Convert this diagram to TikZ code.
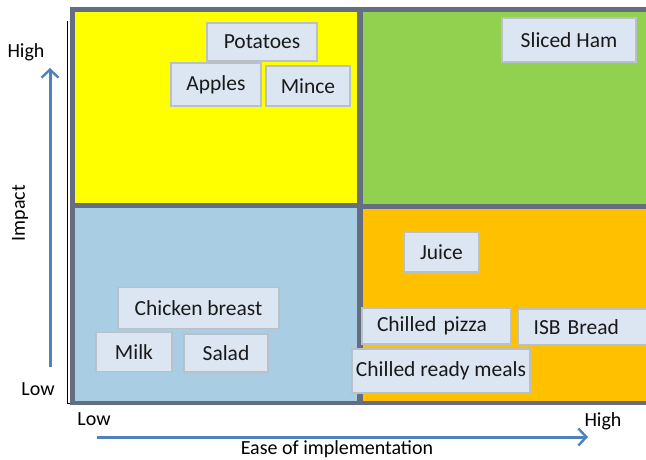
\documentclass[tikz,border=0pt]{standalone}
\usepackage{fontspec}
\setmainfont{Carlito}
\usetikzlibrary{arrows.meta}
\definecolor{framegray}{HTML}{646E80}
\definecolor{qyellow}{HTML}{FFFF00}
\definecolor{qgreen}{HTML}{92D050}
\definecolor{qblue}{HTML}{A9CDE3}
\definecolor{qorange}{HTML}{FFC000}
\definecolor{boxfill}{HTML}{DCE6F2}
\definecolor{boxline}{HTML}{B9C0C8}
\definecolor{arrowblue}{HTML}{4F81BD}
\tikzset{
  item/.style={draw=boxline, line width=1.2pt, fill=boxfill, inner sep=0pt,
    font=\fontsize{21.5}{25}\selectfont, text=black!90},
  axislabel/.style={font=\fontsize{20}{24}\selectfont, inner sep=0pt},
  axisarrow/.style={draw=arrowblue, line width=3pt, -{Straight Barb[length=8pt,width=17pt,line width=2.4pt]}},
}
\begin{document}
\begin{tikzpicture}[x=1pt,y=-1pt]
\useasboundingbox (0,0) rectangle (646,459);
\clip (0,0) rectangle (646,459);
% black axis lines
\draw[black, line width=1pt] (67,21) -- (67,403.5) -- (633,403.5);
% frame and quadrants
\fill[framegray] (70,7) rectangle (652,405);
\fill[qyellow] (75,12) rectangle (357,203);
\fill[qgreen] (363,12) rectangle (652,204);
\fill[qblue] (75,208) rectangle (357,401);
\fill[qorange] (363,209) rectangle (652,401);
% items
\node[item, minimum width=110pt, minimum height=38pt] (potatoes) at (262,42) {Potatoes};
\node[item, minimum width=90pt, minimum height=43pt] (apples) at (216,84.5) {Apples};
\node[item, minimum width=84pt, minimum height=40pt] (mince) at (308,86) {Mince};
\node[item, minimum width=134pt, minimum height=44pt] (ham) at (569,40) {Sliced Ham};
\node[item, minimum width=75pt, minimum height=40pt] (juice) at (441.5,252) {Juice};
\node[item, minimum width=149pt, minimum height=36pt, text width=135pt, align=left, inner xsep=7pt] (pizza) at (436.5,326) {\hspace*{8pt}Chilled pizza};
\node[item, anchor=west, text width=100pt, align=left, inner xsep=15pt, minimum height=36pt] (bread) at (518,327) {ISB Bread};
\node[item, minimum width=178pt, minimum height=44pt] (ready) at (441,371) {Chilled ready meals};
\node[item, minimum width=161pt, minimum height=41pt] (chicken) at (198.5,308) {Chicken breast};
\node[item, minimum width=76pt, minimum height=39pt] (milk) at (134,352) {Milk};
\node[item, minimum width=84pt, minimum height=38pt] (salad) at (226,353) {Salad};
% axis labels
\node[axislabel] (yhigh) at (26,52) {High};
\node[axislabel] (ylow) at (38,389) {Low};
\node[axislabel, rotate=90] (impact) at (20,213) {Impact};
\node[axislabel] (xlow) at (94,419) {Low};
\node[axislabel] (xhigh) at (603,421) {High};
\node[axislabel] (ease) at (337,449) {Ease of implementation};
% arrows
\coordinate (ya) at (50,367);
\coordinate (yb) at (50,68);
\coordinate (xa) at (97,437);
\coordinate (xb) at (588,437);
\draw[axisarrow] (ya) -- (yb);
\draw[axisarrow] (xa) -- (xb);
\end{tikzpicture}
\end{document}
